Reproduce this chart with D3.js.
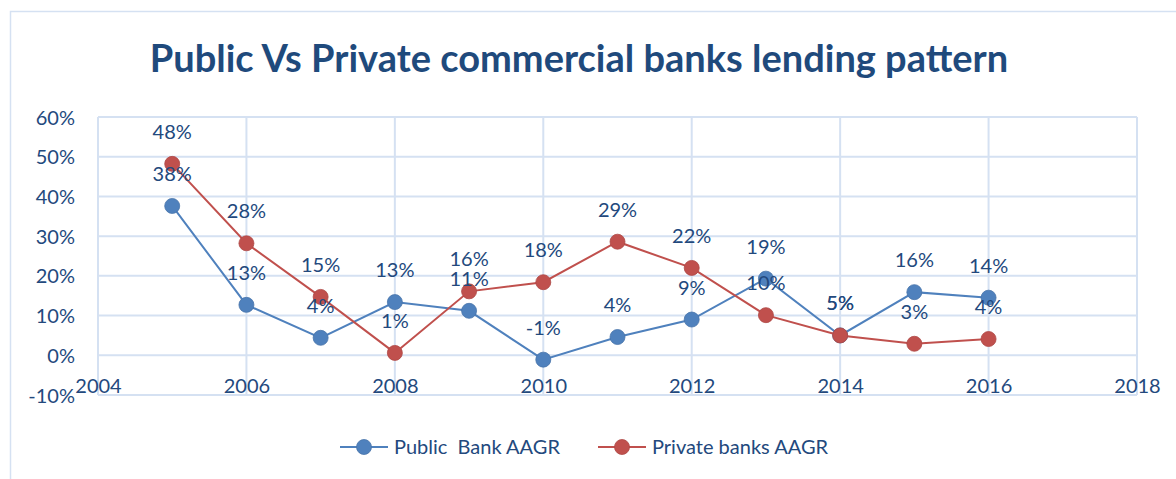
<!DOCTYPE html>
<html>
<head>
<meta charset="utf-8">
<script src="https://cdn.jsdelivr.net/npm/d3@7"></script>
<style>
  html, body { margin: 0; padding: 0; background: #fff; }
  svg { display: block; font-family: Lato, "Open Sans", sans-serif; }
</style>
</head>
<body>
<div id="graphicContainer"></div>
<script>
// values
var years = [2005, 2006, 2007, 2008, 2009, 2010, 2011, 2012, 2013, 2014, 2015, 2016]
var publicAAGR  = [37.6, 12.7, 4.4, 13.4, 11.2, -1.1, 4.6, 9.0, 19.3, 5.0, 15.9, 14.5]
var privateAAGR = [48.2, 28.2, 14.7, 0.6, 16.1, 18.4, 28.6, 22.0, 10.1, 5.0, 2.9, 4.1]
var publicLabels  = ["38%", "13%", "4%", "13%", "11%", "-1%", "4%", "9%", "19%", "5%", "16%", "14%"]
var privateLabels = ["48%", "28%", "15%", "1%", "16%", "18%", "29%", "22%", "10%", "5%", "3%", "4%"]
var xTicks = [2004, 2006, 2008, 2010, 2012, 2014, 2016, 2018]
var yTicks = [-10, 0, 10, 20, 30, 40, 50, 60]
var seriesNames = ["Public  Bank AAGR", "Private banks AAGR"]

var width = 1176, height = 479
var margin = {top: 117, right: 39, bottom: 84, left: 98}
var textColor = "#23497d"
var gridColor = "#d5e1f2"
var colors = ["#4f81bd", "#c0504d"]

var svg = d3.select("#graphicContainer").append("svg")
    .attr("width", width)
    .attr("height", height)

// outer chart frame
svg.append("rect")
    .attr("x", 10.5).attr("y", 11.5)
    .attr("width", width + 20).attr("height", height + 20)
    .attr("fill", "none")
    .attr("stroke", gridColor)
    .attr("stroke-width", 1.5)

svg.append("text")
    .attr("x", 579)
    .attr("y", 72)
    .attr("text-anchor", "middle")
    .attr("fill", "#1f4a7c")
    .attr("font-weight", "bold")
    .attr("font-size", 38)
    .text("Public Vs Private commercial banks lending pattern")

var x = d3.scaleLinear().domain([2004, 2018]).range([margin.left, width - margin.right])
var y = d3.scaleLinear().domain([-10, 60]).range([height - margin.bottom, margin.top])

var grid = svg.append("g")
grid.selectAll(".h").data(yTicks).enter().append("line")
    .attr("x1", x(2004)).attr("x2", x(2018))
    .attr("y1", d => y(d)).attr("y2", d => y(d))
    .attr("stroke", gridColor).attr("stroke-width", 2)
grid.selectAll(".v").data(xTicks).enter().append("line")
    .attr("x1", d => x(d)).attr("x2", d => x(d))
    .attr("y1", y(60)).attr("y2", y(-10))
    .attr("stroke", gridColor).attr("stroke-width", 2)

// axes, drawn with d3 axis then stripped of domain/ticks
var yAxis = svg.append("g")
    .attr("transform", "translate(" + (margin.left - 23) + ",0)")
    .call(d3.axisLeft(y).tickValues(yTicks).tickSize(0).tickFormat(d => d + "%"))
var xAxis = svg.append("g")
    .attr("transform", "translate(0," + (y(-10) - 16) + ")")
    .call(d3.axisBottom(x).tickValues(xTicks).tickSize(0).tickFormat(d3.format("d")))

svg.selectAll(".domain").remove()
svg.selectAll(".tick text")
    .attr("fill", textColor)
    .attr("font-size", 20)
    .attr("font-family", "Lato, 'Open Sans', sans-serif")
yAxis.selectAll(".tick text").attr("x", 0).attr("dy", "0.35em")
xAxis.selectAll(".tick text").attr("y", 0).attr("dy", "0.71em")

var series = [
    {name: seriesNames[0], values: publicAAGR, labels: publicLabels, color: colors[0]},
    {name: seriesNames[1], values: privateAAGR, labels: privateLabels, color: colors[1]}
]

var line = d3.line()
    .x((d, i) => x(years[i]))
    .y(d => y(d))

series.forEach(s => {
    var g = svg.append("g")
    g.append("path")
        .attr("d", line(s.values))
        .attr("fill", "none")
        .attr("stroke", s.color)
        .attr("stroke-width", 2)
    g.selectAll("circle").data(s.values).enter().append("circle")
        .attr("cx", (d, i) => x(years[i]))
        .attr("cy", d => y(d))
        .attr("r", 7.5)
        .attr("fill", s.color)
        .attr("stroke", d3.color(s.color).darker(0.3))
        .attr("stroke-width", 0.8)
})

series.forEach(s => {
    svg.append("g").selectAll("text").data(s.values).enter().append("text")
        .attr("x", (d, i) => x(years[i]))
        .attr("y", d => y(d) - 25)
        .attr("text-anchor", "middle")
        .attr("fill", textColor)
        .attr("font-size", 20)
        .text((d, i) => s.labels[i])
})

// legend
var legendX = [340, 598]
var legend = svg.append("g")
series.forEach((s, i) => {
    var lg = legend.append("g").attr("transform", "translate(" + legendX[i] + ",447)")
    lg.append("line").attr("x1", 0).attr("x2", 48)
        .attr("stroke", s.color).attr("stroke-width", 2)
    lg.append("circle").attr("cx", 24).attr("r", 7.5)
        .attr("fill", s.color)
        .attr("stroke", d3.color(s.color).darker(0.3)).attr("stroke-width", 0.8)
    lg.append("text").attr("x", 54).attr("dy", "0.35em")
        .attr("fill", textColor)
        .attr("font-size", 20)
        .attr("xml:space", "preserve")
        .style("white-space", "pre")
        .text(s.name)
})
</script>
</body>
</html>
